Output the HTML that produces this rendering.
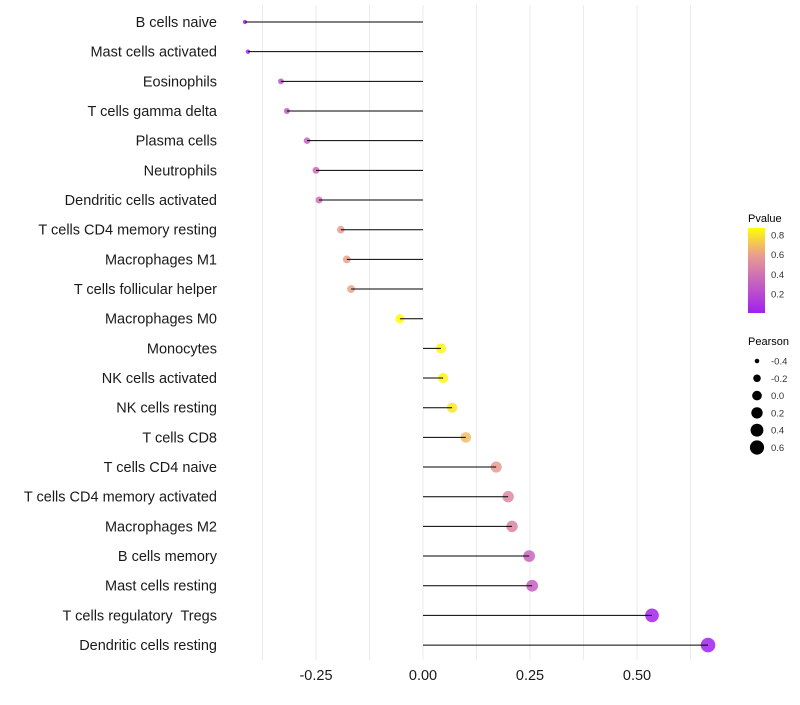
<!DOCTYPE html>
<html><head><meta charset="utf-8"><style>
body{margin:0;background:#fff;font-family:"Liberation Sans",sans-serif}
text{white-space:pre}
</style></head><body>
<svg id="c" width="800" height="700" xmlns="http://www.w3.org/2000/svg" style="font-family:'Liberation Sans',sans-serif"></svg>
<script>
const categories=["B cells naive","Mast cells activated","Eosinophils","T cells gamma delta","Plasma cells","Neutrophils","Dendritic cells activated","T cells CD4 memory resting","Macrophages M1","T cells follicular helper","Macrophages M0","Monocytes","NK cells activated","NK cells resting","T cells CD8","T cells CD4 naive","T cells CD4 memory activated","Macrophages M2","B cells memory","Mast cells resting","T cells regulatory  Tregs","Dendritic cells resting"];
const pearson=[-0.416,-0.409,-0.332,-0.318,-0.271,-0.25,-0.243,-0.192,-0.178,-0.168,-0.054,0.042,0.047,0.068,0.100,0.171,0.199,0.208,0.248,0.255,0.535,0.666];
const pvalue=[0.03,0.05,0.25,0.28,0.33,0.36,0.4,0.58,0.6,0.62,0.87,0.85,0.84,0.8,0.7,0.58,0.5,0.48,0.33,0.3,0.02,0.01];
const xTicks=[-0.25,0,0.25,0.5];
const xTickLabels=["-0.25","0.00","0.25","0.50"];
const pTicks=[0.2,0.4,0.6,0.8];
const sizeTicks=[-0.4,-0.2,0,0.2,0.4,0.6];
const NS="http://www.w3.org/2000/svg";
const svg=document.getElementById('c');
const x=v=>423+v*428;
const y=i=>22+i*29.67;
const r=p=>Math.sqrt(4.5+Math.max(0,p+0.416)*45);
function col(p){const stops=[[0,[160,32,240]],[0.45,[214,125,170]],[0.65,[240,170,130]],[0.87,[255,255,0]]];
 p=Math.max(0,Math.min(0.87,p));for(let k=1;k<stops.length;k++){if(p<=stops[k][0]){const a=stops[k-1],b=stops[k],t=(p-a[0])/(b[0]-a[0]);return `rgb(${a[1].map((c,j)=>Math.round(c+(b[1][j]-c)*t)).join(',')})`;}}return 'rgb(255,255,0)';}
function el(t,a,p){const e=document.createElementNS(NS,t);for(const k in a)e.setAttribute(k,a[k]);(p||svg).appendChild(e);return e;}
for(let g=-0.375;g<=0.625;g+=0.125){const l=el('line',{x1:x(g),x2:x(g),y1:5,y2:660,stroke:'#ebebeb','stroke-width':1});

}
categories.forEach((c,i)=>{
 const t=el('text',{x:217,y:y(i)+5,'text-anchor':'end','font-size':14.5,fill:'#1a1a1a'});t.textContent=c;
 
 
 const d=el('circle',{cx:x(pearson[i]),cy:y(i),r:r(pearson[i]),fill:col(pvalue[i]),'fill-opacity':0.85});
 
 
 const l=el('line',{x1:x(pearson[i]),x2:x(0),y1:y(i),y2:y(i),stroke:'#000','stroke-width':1});
 
 
});
xTicks.forEach((v,i)=>{const t=el('text',{x:x(v),y:680,'text-anchor':'middle','font-size':14.5,fill:'#1a1a1a'});t.textContent=xTickLabels[i];

});
let t=el('text',{x:748,y:222,'font-size':11,fill:'#000'});t.textContent='Pvalue';


const defs=el('defs',{});const lg=el('linearGradient',{id:'g',x1:0,y1:1,x2:0,y2:0},defs);
[0,0.2,0.4,0.6,0.8,0.87].forEach(p=>el('stop',{offset:(p-0.01)/0.86,'stop-color':col(p)},lg));
const bar=el('rect',{x:748,y:228,width:17,height:85,fill:'url(#g)'});


const py=p=>313-(p-0.01)/0.86*85;
pTicks.forEach(p=>{const tt=el('text',{x:771,y:py(p)+3.5,'font-size':9.5,fill:'#333'});tt.textContent=p.toFixed(1);

});
t=el('text',{x:748,y:345,'font-size':11,fill:'#000'});t.textContent='Pearson';


sizeTicks.forEach((s,i)=>{const yy=361+i*17.3;const cc=el('circle',{cx:757,cy:yy,r:r(s),fill:'#000'});


const tt=el('text',{x:771,y:yy+3.5,'font-size':9.5,fill:'#333'});tt.textContent=s.toFixed(1);

});
</script>
</body></html>
